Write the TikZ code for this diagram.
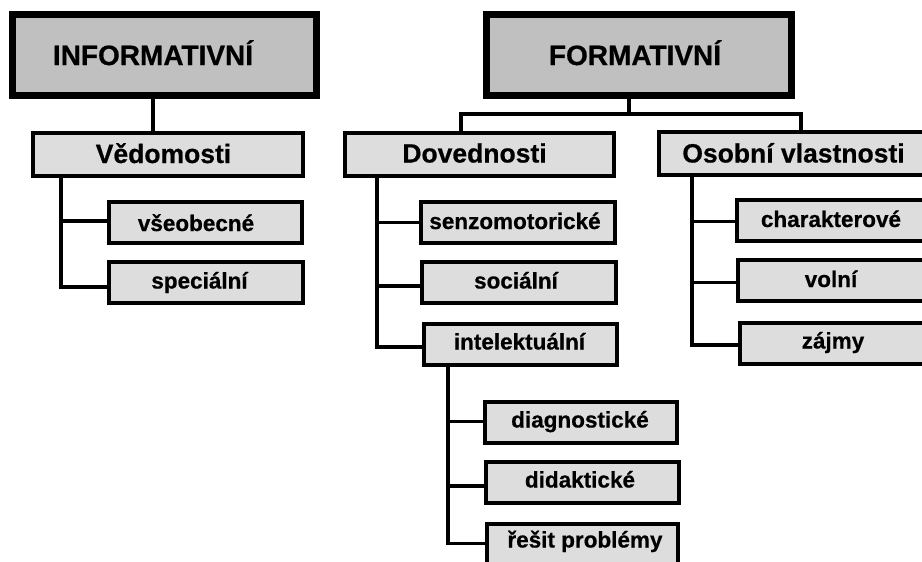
\documentclass[tikz,border=0pt]{standalone}
\usepackage{fontspec}
\setmainfont{Liberation Sans}
\newfontfamily\heavy{Liberation Sans Bold}[FakeBold=0.6]
\definecolor{topfill}{HTML}{C0C0C0}
\definecolor{boxfill}{HTML}{DDDDDD}
\tikzset{
  topbox/.style={draw=black, fill=topfill, line width=7pt, inner sep=0pt, outer sep=0pt, minimum width=#1, minimum height=81pt},
  midbox/.style={draw=black, fill=boxfill, line width=4pt, inner sep=0pt, outer sep=0pt, minimum width=#1, minimum height=43pt},
  subbox/.style={draw=black, fill=boxfill, line width=4pt, inner sep=0pt, outer sep=0pt, minimum width=#1, minimum height=41pt},
  toptext/.style={inner sep=0pt, anchor=base, font=\heavy\fontsize{28pt}{32pt}\selectfont},
  midtext/.style={inner sep=0pt, anchor=base, font=\heavy\fontsize{26.5pt}{30pt}\selectfont},
  subtext/.style={inner sep=0pt, anchor=base, font=\heavy\fontsize{22.5pt}{26pt}\selectfont},
  link/.style={draw=black, line width=3.6pt, line join=miter}
}
\begin{document}
\begin{tikzpicture}[x=1pt,y=-1pt]
\useasboundingbox (0,0) rectangle (922,562);
\clip (0,0) rectangle (922,562);

% top level
\node[topbox=304] (INF) at (164.5,55) {};
\node[toptext] (INFt) at (153,65) {INFORMATIVNÍ};
\node[topbox=305] (FOR) at (639,55) {};
\node[toptext] (FORt) at (635,65) {FORMATIVNÍ};

% second level
\node[midbox=270] (VED) at (168,154.5) {};
\node[midtext] (VEDt) at (163.5,163) {Vědomosti};
\node[midbox=269] (DOV) at (479.5,154.5) {};
\node[midtext] (DOVt) at (474.5,162.5) {Dovednosti};
\node[midbox=269] (OSO) at (793.5,153.5) {};
\node[midtext] (OSOt) at (793.5,162.5) {Osobní vlastnosti};

% third level
\node[subbox=193] (VSE) at (205.5,222.5) {};
\node[subtext] (VSEt) at (196,231) {všeobecné};
\node[subbox=194] (SPE) at (206,282.5) {};
\node[subtext] (SPEt) at (199.5,288.5) {speciální};

\node[subbox=194] (SEN) at (518,222) {};
\node[subtext] (SENt) at (515,229) {senzomotorické};
\node[subbox=194] (SOC) at (519,282.5) {};
\node[subtext] (SOCt) at (516,288.5) {sociální};
\node[subbox=193] (INT) at (520.5,344.5) {};
\node[subtext] (INTt) at (519.5,349.5) {intelektuální};

\node[subbox=188] (CHA) at (831,220.5) {};
\node[subtext] (CHAt) at (831,227) {charakterové};
\node[subbox=187] (VOL) at (831.5,280.5) {};
\node[subtext] (VOLt) at (831,287) {volní};
\node[subbox=186] (ZAJ) at (833,343) {};
\node[subtext] (ZAJt) at (833,348.5) {zájmy};

\node[subbox=192] (DIA) at (581,422) {};
\node[subtext] (DIAt) at (580,427.5) {diagnostické};
\node[subbox=193] (DID) at (582.5,482) {};
\node[subtext] (DIDt) at (580,487.5) {didaktické};
\node[subbox=191] (RES) at (582.5,544.5) {};
\node[subtext] (RESt) at (585,547.5) {řešit problémy};

% connectors: informative side
\draw[link] (INF.south -| INFt) -- (VED.north -| INFt);
\coordinate (v1) at (61,221);
\coordinate (v2) at (61,287);
\draw[link] (VED.south -| v1) -- (v2) -- (v2 -| SPE.west);
\draw[link] (v1) -- (v1 -| VSE.west);

% connectors: formative side
\coordinate (fj) at (629,114);
\coordinate (dj) at (461,114);
\coordinate (oj) at (801,114);
\draw[link] (FOR.south -| fj) -- (fj);
\draw[link] (DOV.north -| dj) -- (dj) -- (oj) -- (OSO.north -| oj);

\coordinate (d1) at (377,222.5);
\coordinate (d2) at (377,286);
\coordinate (d3) at (377,347);
\draw[link] (DOV.south -| d1) -- (d3) -- (d3 -| INT.west);
\draw[link] (d1) -- (d1 -| SEN.west);
\draw[link] (d2) -- (d2 -| SOC.west);

\coordinate (o1) at (692,221.5);
\coordinate (o2) at (692,282.5);
\coordinate (o3) at (692,345);
\draw[link] (OSO.south -| o1) -- (o3) -- (o3 -| ZAJ.west);
\draw[link] (o1) -- (o1 -| CHA.west);
\draw[link] (o2) -- (o2 -| VOL.west);

\coordinate (i1) at (448,421.5);
\coordinate (i2) at (448,486);
\coordinate (i3) at (448,543.5);
\draw[link] (INT.south -| i1) -- (i3) -- (i3 -| RES.west);
\draw[link] (i1) -- (i1 -| DIA.west);
\draw[link] (i2) -- (i2 -| DID.west);
\end{tikzpicture}
\end{document}
